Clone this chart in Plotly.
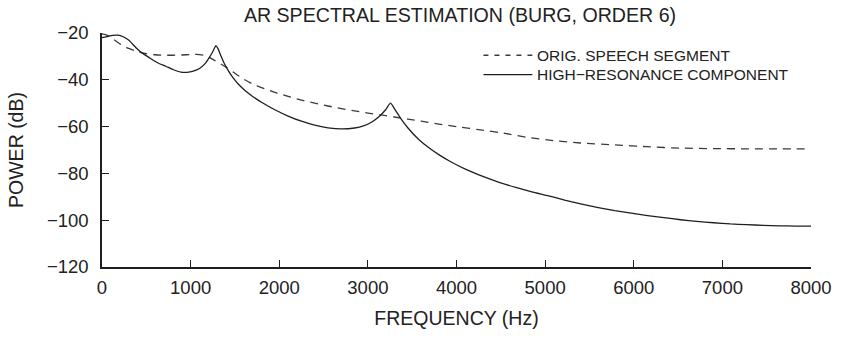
import plotly.graph_objects as go

# Burg AR(6) spectral estimates, frequency in Hz, power in dB
orig_name = "ORIG. SPEECH SEGMENT"
orig_freq = [0, 60, 130, 200, 300, 390, 500, 600, 700, 800, 900, 1000, 1100,
             1160, 1210, 1260, 1320, 1400, 1480, 1580, 1700, 1800, 1950, 2100,
             2250, 2400, 2550, 2700, 2850, 3000, 3150, 3300, 3450, 3600, 3800,
             4000, 4250, 4500, 4818, 5100, 5400, 5785, 6150, 6529, 6900, 7300,
             7650, 8000]
orig_db = [-20.4, -21.0, -22.7, -24.6, -26.6, -27.8, -28.8, -29.3, -29.5, -29.5,
           -29.4, -29.2, -29.2, -29.6, -30.4, -31.5, -32.8, -34.6, -36.7, -39.3,
           -41.8, -43.3, -45.4, -47.1, -48.7, -50.0, -51.2, -52.3, -53.3, -54.2,
           -55.0, -55.9, -56.8, -57.7, -58.9, -60.0, -61.3, -62.6, -64.7, -66.0,
           -67.0, -67.8, -68.6, -69.2, -69.4, -69.5, -69.5, -69.5]

hr_name = "HIGH\u2212RESONANCE COMPONENT"
hr_freq = [0, 60, 120, 180, 240, 300, 390, 450, 540, 620, 720, 800, 890, 960,
           1030, 1100, 1160, 1210, 1250, 1285, 1310, 1340, 1380, 1430, 1480,
           1540, 1620, 1700, 1800, 1950, 2100, 2250, 2400, 2550, 2700, 2850,
           2950, 3050, 3130, 3200, 3255, 3300, 3370, 3450, 3571, 3700, 3813,
           3925, 4100, 4297, 4480, 4669, 4850, 5040, 5220, 5413, 5600, 5785,
           5970, 6156, 6340, 6529, 6710, 6901, 7090, 7272, 7460, 7645, 7820,
           8000]
hr_db = [-22.0, -21.5, -21.0, -20.9, -21.6, -23.0, -26.5, -28.5, -30.7, -32.6,
         -34.2, -35.6, -36.7, -36.8, -36.3, -35.2, -33.2, -30.5, -28.0, -25.4,
         -26.8, -29.6, -33.0, -36.4, -39.2, -41.9, -44.8, -47.1, -49.6, -52.8,
         -55.5, -57.7, -59.4, -60.5, -61.0, -60.6, -59.7, -57.9, -55.6, -52.8,
         -50.0, -52.3, -56.5, -60.5, -65.4, -69.4, -72.3, -74.8, -78.2, -81.3,
         -83.8, -86.0, -87.9, -89.6, -91.4, -93.1, -94.6, -95.9, -97.0, -98.0,
         -98.9, -99.8, -100.5, -101.1, -101.6, -101.9, -102.2, -102.4, -102.5,
         -102.5]

x_ticks = [0, 1000, 2000, 3000, 4000, 5000, 6000, 7000, 8000]
y_ticks = [-120, -100, -80, -60, -40, -20]

FONT = "Liberation Sans, Arial, Helvetica, sans-serif"
INK = "#1f1f1f"
DASH_INK = "#3a3a3a"

fig = go.Figure()
fig.add_trace(go.Scatter(
    x=orig_freq, y=orig_db, mode="lines", name=orig_name,
    line=dict(color=DASH_INK, width=1.3, dash="8px,6px", shape="spline",
              smoothing=0.6),
))
fig.add_trace(go.Scatter(
    x=hr_freq, y=hr_db, mode="lines", name=hr_name,
    line=dict(color=INK, width=1.3, shape="spline", smoothing=0.5),
))

axis_common = dict(
    showgrid=False, zeroline=False, showline=True, linecolor=INK,
    linewidth=1.5, ticks="inside", ticklen=7, tickwidth=1.2,
    tickcolor=INK, tickfont=dict(family=FONT, size=18.5, color="#222"),
)

# Hand-placed key in the upper right: line sample + label per series
key_x0, key_x1, key_text_x = 0.538, 0.607, 0.611
key_rows = [(0.905, orig_name, DASH_INK, "5px,6px"),
            (0.822, hr_name, INK, "solid")]
shapes, annotations = [], []
for ky, label, color, dash in key_rows:
    shapes.append(dict(type="line", xref="paper", yref="paper",
                       x0=key_x0, x1=key_x1, y0=ky, y1=ky,
                       line=dict(color=color, width=1.3, dash=dash)))
    annotations.append(dict(xref="paper", yref="paper", x=key_text_x, y=ky,
                            xanchor="left", yanchor="middle", text=label,
                            showarrow=False,
                            font=dict(family=FONT, size=15.5, color="#222")))

fig.update_layout(
    width=844, height=338,
    margin=dict(l=102, r=26, t=33, b=67),
    paper_bgcolor="white", plot_bgcolor="white",
    font=dict(family=FONT, color="#222"),
    title=dict(text="AR SPECTRAL ESTIMATION (BURG, ORDER 6)",
               x=0.545, xanchor="center", y=0.955, yanchor="middle",
               font=dict(family=FONT, size=19.6, color="#222")),
    xaxis=dict(range=[0, 8000], tickvals=x_ticks, ticklabelstandoff=3,
               title=dict(text="FREQUENCY (Hz)", standoff=14,
                          font=dict(family=FONT, size=19.5, color="#222")),
               **axis_common),
    yaxis=dict(range=[-120, -20], tickvals=y_ticks, ticklabelstandoff=8,
               title=dict(text="POWER (dB)", standoff=18,
                          font=dict(family=FONT, size=19.5, color="#222")),
               **axis_common),
    shapes=shapes,
    annotations=annotations,
    showlegend=False,
)

fig.write_html("out.html")
